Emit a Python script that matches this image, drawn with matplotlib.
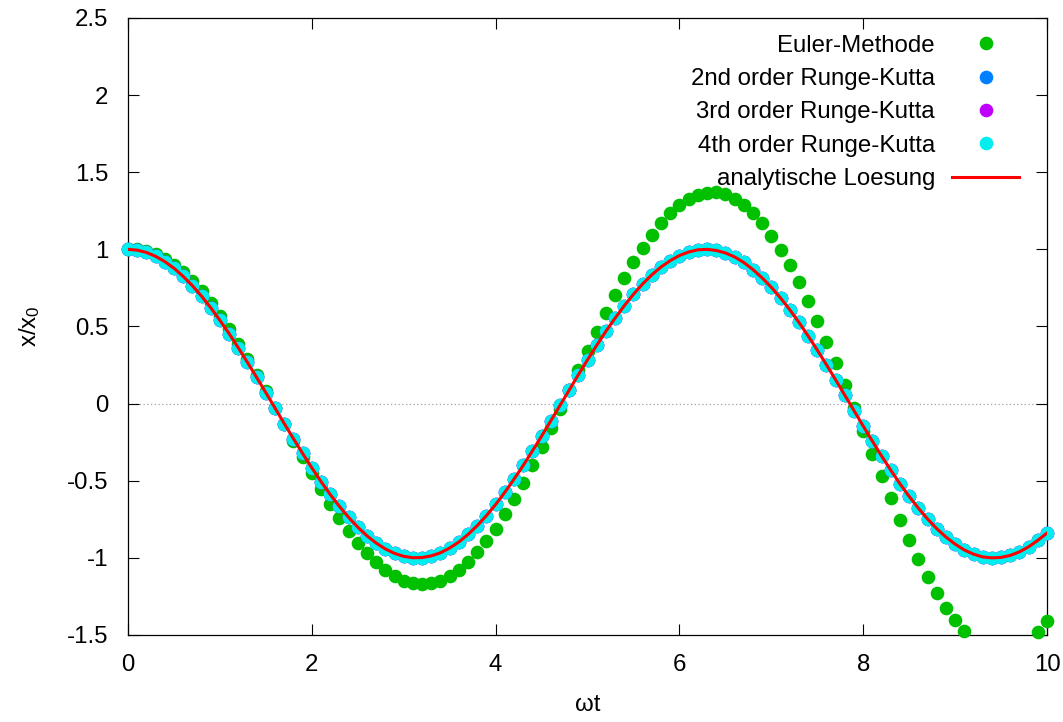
import numpy as np
import matplotlib
matplotlib.use("Agg")
import matplotlib.pyplot as plt

plt.rcParams['font.family'] = ['Liberation Sans', 'DejaVu Sans']
plt.rcParams['mathtext.fontset'] = 'custom'
plt.rcParams['mathtext.rm'] = 'Liberation Sans'
plt.rcParams['mathtext.it'] = 'Liberation Sans'
plt.rcParams['mathtext.default'] = 'regular'

# time grid (omega t), step 0.1
wt = np.linspace(0, 10, 101)

euler = [1.000, 1.000, 0.990, 0.970, 0.940, 0.901, 0.851, 0.793, 0.727, 0.653,
         0.571, 0.483, 0.389, 0.290, 0.187, 0.082, -0.026, -0.134, -0.242, -0.349,
         -0.453, -0.554, -0.650, -0.741, -0.825, -0.902, -0.970, -1.030, -1.079, -1.119,
         -1.148, -1.165, -1.171, -1.166, -1.148, -1.119, -1.079, -1.027, -0.965, -0.892,
         -0.810, -0.718, -0.619, -0.513, -0.400, -0.282, -0.160, -0.035, 0.091, 0.218,
         0.343, 0.467, 0.587, 0.703, 0.812, 0.915, 1.009, 1.094, 1.170, 1.234,
         1.286, 1.327, 1.354, 1.368, 1.369, 1.356, 1.329, 1.288, 1.235, 1.168,
         1.089, 0.999, 0.897, 0.786, 0.665, 0.537, 0.402, 0.262, 0.118, -0.029,
         -0.178, -0.325, -0.471, -0.614, -0.752, -0.884, -1.009, -1.124, -1.230, -1.324,
         -1.406, -1.475, -1.529, -1.569, -1.594, -1.603, -1.596, -1.573, -1.534, -1.479,
         -1.409]

analytic = [1.000, 0.995, 0.980, 0.955, 0.921, 0.878, 0.825, 0.765, 0.697, 0.622,
            0.540, 0.454, 0.362, 0.267, 0.170, 0.071, -0.029, -0.129, -0.227, -0.323,
            -0.416, -0.505, -0.589, -0.666, -0.737, -0.801, -0.857, -0.904, -0.942, -0.971,
            -0.990, -0.999, -0.998, -0.987, -0.967, -0.936, -0.897, -0.848, -0.791, -0.726,
            -0.654, -0.575, -0.490, -0.401, -0.307, -0.211, -0.112, -0.012, 0.087, 0.187,
            0.284, 0.378, 0.469, 0.554, 0.635, 0.709, 0.776, 0.835, 0.886, 0.927,
            0.960, 0.983, 0.997, 1.000, 0.993, 0.977, 0.951, 0.915, 0.869, 0.815,
            0.754, 0.685, 0.609, 0.527, 0.439, 0.347, 0.252, 0.154, 0.054, -0.046,
            -0.146, -0.244, -0.340, -0.432, -0.520, -0.602, -0.678, -0.748, -0.811, -0.865,
            -0.911, -0.949, -0.976, -0.994, -1.000, -0.997, -0.984, -0.961, -0.928, -0.886,
            -0.839]

rk2 = list(analytic)
rk3 = list(analytic)
rk4 = list(analytic)

labels = ["Euler-Methode", "2nd order Runge-Kutta", "3rd order Runge-Kutta",
          "4th order Runge-Kutta", "analytische Loesung"]
colors = ["#00c000", "#0080ff", "#c000ff", "#00eeee", "#ff0000"]

xticks = [0, 2, 4, 6, 8, 10]
yticks = [-1.5, -1, -0.5, 0, 0.5, 1, 1.5, 2, 2.5]
ytick_labels = ["-1.5", "-1", "-0.5", "0", "0.5", "1", "1.5", "2", "2.5"]
ymin, ymax = -1.5, 2.5

fs = 17.3

fig = plt.figure(figsize=(10.63, 7.22), dpi=100)
ax = fig.add_axes([0.1204, 0.1205, 0.8646, 0.8546])

ax.axhline(0, color="#a0a0a0", lw=0.9, ls=(0, (1, 2)), zorder=1)

def inrange(vals):
    v = np.array(vals, dtype=float)
    return np.where((v >= ymin) & (v <= ymax), v, np.nan)

ms = 8.8
for vals, lab, col in zip([euler, rk2, rk3, rk4], labels[:4], colors[:4]):
    ax.plot(wt, inrange(vals), ls="none", marker="o", ms=ms, color=col,
            mec=col, label=lab, clip_on=False, zorder=3)

ax.plot(wt, analytic, color=colors[4], lw=2.2, label=labels[4], zorder=4)

ax.set_xlim(0, 10)
ax.set_ylim(ymin, ymax)
ax.set_xticks(xticks)
ax.set_xticklabels([str(x) for x in xticks])
ax.set_yticks(yticks)
ax.set_yticklabels(ytick_labels)
ax.tick_params(direction="in", length=8, width=0.8, labelsize=fs,
               top=True, right=True)
ax.tick_params(axis="x", pad=14)
ax.tick_params(axis="y", pad=14)
for s in ax.spines.values():
    s.set_linewidth(0.9)

ax.set_xlabel("\u03c9t", fontsize=fs, labelpad=13)
ax.set_ylabel("x/x$_0$", fontsize=fs, labelpad=18)

leg = ax.legend(loc="upper right", frameon=False, markerfirst=False, fontsize=fs,
                handlelength=2.8, handletextpad=0.7, labelspacing=0.47,
                borderaxespad=0.3, bbox_to_anchor=(0.988, 1.0))

fig.savefig("out.png", dpi=100)
